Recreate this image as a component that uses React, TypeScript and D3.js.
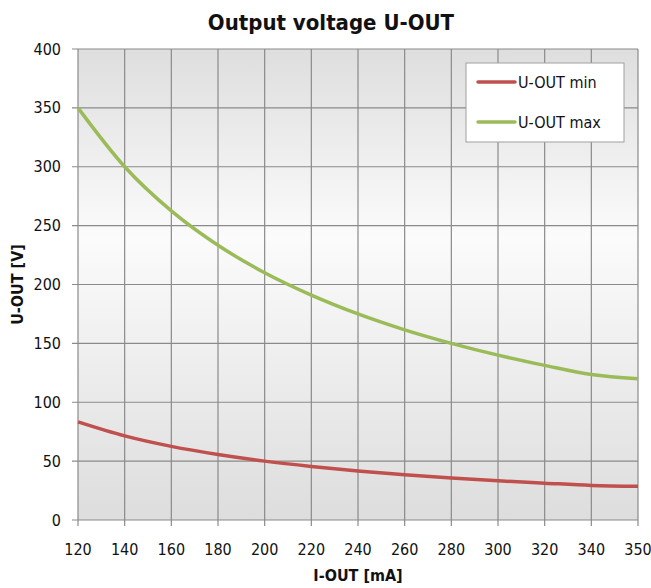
import React, { useEffect, useRef } from "react";
import * as d3 from "d3";

// I-OUT categories (mA)
const currents = ["120", "140", "160", "180", "200", "220", "240", "260", "280", "300", "320", "340", "350"];
// U-OUT min (V)
const uMin = [83.3, 71.4, 62.5, 55.6, 50, 45.5, 41.7, 38.5, 35.7, 33.3, 31.3, 29.4, 28.6];
// U-OUT max (V)
const uMax = [350, 300, 262.5, 233.3, 210, 191, 175, 161.5, 150, 140, 131.3, 123.5, 120];
const yTicks = [0, 50, 100, 150, 200, 250, 300, 350, 400];

const seriesNames = ["U-OUT min", "U-OUT max"];
const seriesColors = ["#c0504d", "#9bbb59"];

const FONT = "'DejaVu Sans Condensed', 'Liberation Sans Narrow', 'Roboto', sans-serif";

const App: React.FC = () => {
  const ref = useRef<SVGSVGElement>(null);

  useEffect(() => {
    if (!ref.current) return;
    const width = 651;
    const height = 588;
    const margin = { top: 49, right: 13, bottom: 68, left: 78 };
    const innerW = width - margin.left - margin.right;
    const innerH = height - margin.top - margin.bottom;

    const root = d3.select(ref.current);
    root.selectAll("*").remove();

    // background gradient of plot area
    const defs = root.append("defs");
    const grad = defs
      .append("linearGradient")
      .attr("id", "plotBg")
      .attr("x1", 0)
      .attr("y1", 0)
      .attr("x2", 0)
      .attr("y2", 1);
    grad.append("stop").attr("offset", "0%").attr("stop-color", "#dedede");
    grad.append("stop").attr("offset", "40%").attr("stop-color", "#fbfbfb");
    grad.append("stop").attr("offset", "100%").attr("stop-color", "#dddddd");

    const svg = root.append("g").attr("transform", `translate(${margin.left},${margin.top})`);

    const x = d3.scalePoint<string>().domain(currents).range([0, innerW]);
    const y = d3.scaleLinear().domain([0, 400]).range([innerH, 0]);

    svg
      .append("rect")
      .attr("width", innerW)
      .attr("height", innerH)
      .attr("fill", "url(#plotBg)");

    // gridlines
    svg
      .selectAll(".vgrid")
      .data(currents)
      .enter()
      .append("line")
      .attr("x1", (d) => x(d)!)
      .attr("x2", (d) => x(d)!)
      .attr("y1", 0)
      .attr("y2", innerH + 6)
      .attr("stroke", "#8a8a8a")
      .attr("stroke-width", 1.2);

    svg
      .selectAll(".hgrid")
      .data(yTicks)
      .enter()
      .append("line")
      .attr("x1", -6)
      .attr("x2", innerW)
      .attr("y1", (d) => y(d))
      .attr("y2", (d) => y(d))
      .attr("stroke", "#8a8a8a")
      .attr("stroke-width", 1.2);

    // y labels
    svg
      .selectAll(".ylab")
      .data(yTicks)
      .enter()
      .append("text")
      .attr("x", -17)
      .attr("y", (d) => y(d))
      .attr("dy", "0.35em")
      .attr("text-anchor", "end")
      .attr("font-family", FONT)
      .attr("font-size", 16)
      .attr("fill", "#111")
      .text((d) => d);

    // x labels
    svg
      .selectAll(".xlab")
      .data(currents)
      .enter()
      .append("text")
      .attr("x", (d) => x(d)!)
      .attr("y", innerH + 35)
      .attr("text-anchor", "middle")
      .attr("font-family", FONT)
      .attr("font-size", 16)
      .attr("fill", "#111")
      .text((d) => d);

    // lines
    const line = d3
      .line<number>()
      .x((_, i) => x(currents[i])!)
      .y((d) => y(d))
      .curve(d3.curveMonotoneX);

    [uMin, uMax].forEach((vals, i) => {
      svg
        .append("path")
        .datum(vals)
        .attr("fill", "none")
        .attr("stroke", seriesColors[i])
        .attr("stroke-width", 3.5)
        .attr("stroke-linejoin", "round")
        .attr("d", line);
    });

    // legend
    const lg = root.append("g").attr("transform", "translate(466,63)");
    lg.append("rect")
      .attr("width", 158)
      .attr("height", 79)
      .attr("fill", "#fff")
      .attr("stroke", "#a0a0a0")
      .attr("stroke-width", 1);
    seriesNames.forEach((name, i) => {
      const ly = 19 + i * 40;
      lg.append("line")
        .attr("x1", 12)
        .attr("x2", 49)
        .attr("y1", ly)
        .attr("y2", ly)
        .attr("stroke", seriesColors[i])
        .attr("stroke-width", 3.5)
        .attr("stroke-linecap", "round");
      lg.append("text")
        .attr("x", 52)
        .attr("y", ly)
        .attr("dy", "0.35em")
        .attr("font-family", FONT)
        .attr("font-size", 16)
        .attr("fill", "#111")
        .text(name);
    });

    // titles
    root
      .append("text")
      .attr("x", 331)
      .attr("y", 30)
      .attr("text-anchor", "middle")
      .attr("font-family", FONT)
      .attr("font-size", 22)
      .attr("font-weight", "bold")
      .attr("fill", "#111")
      .text("Output voltage U-OUT");

    root
      .append("text")
      .attr("x", margin.left + innerW / 2)
      .attr("y", 581)
      .attr("text-anchor", "middle")
      .attr("font-family", FONT)
      .attr("font-size", 16)
      .attr("font-weight", "bold")
      .attr("fill", "#111")
      .text("I-OUT [mA]");

    root
      .append("text")
      .attr("transform", `translate(23,${margin.top + innerH / 2}) rotate(-90)`)
      .attr("text-anchor", "middle")
      .attr("font-family", FONT)
      .attr("font-size", 16)
      .attr("font-weight", "bold")
      .attr("fill", "#111")
      .text("U-OUT [V]");
  }, []);

  return (
    <svg
      ref={ref}
      width={651}
      height={588}
      style={{ position: "absolute", left: 0, top: 0, background: "#fff" }}
    />
  );
};

export default App;
